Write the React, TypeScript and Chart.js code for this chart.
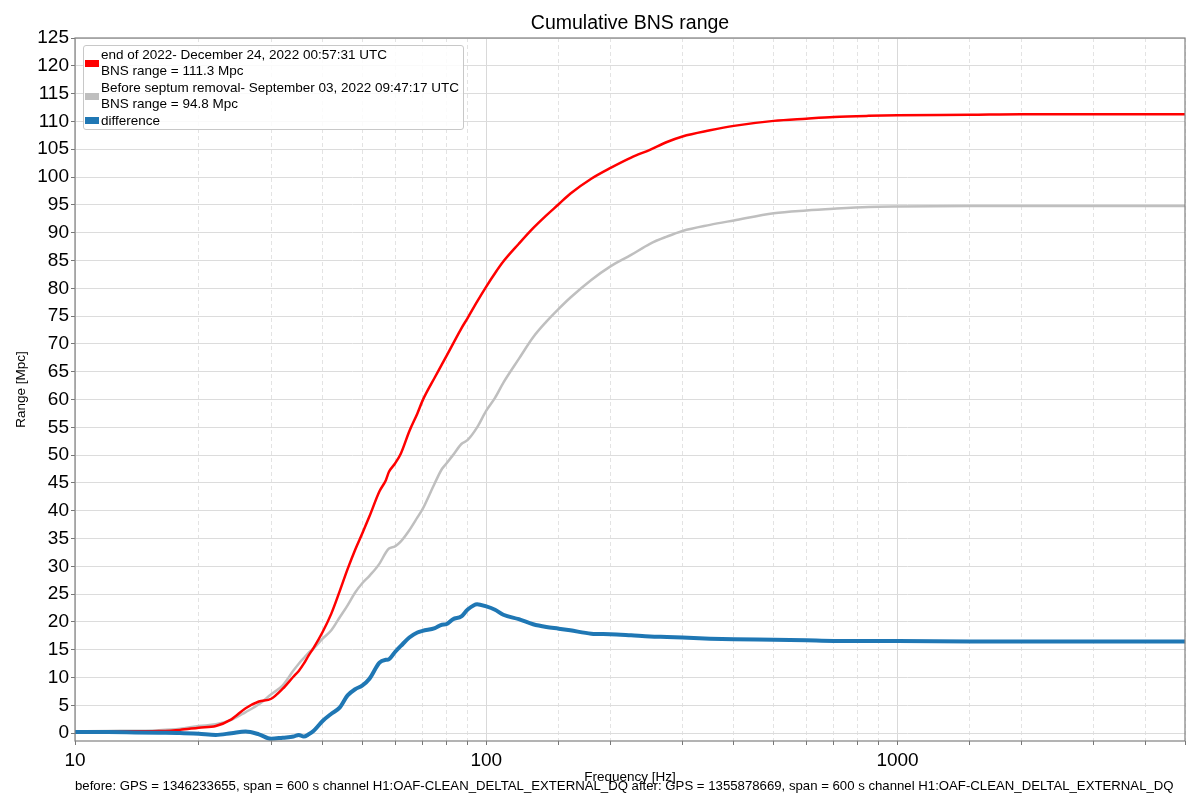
import { useEffect, useRef } from 'react';
import { Chart, registerables } from 'chart.js';
Chart.register(...registerables);

const FONT = '"Liberation Sans", Arial, sans-serif';

const FREQ_HZ = [
  10, 12, 14, 16, 18, 20, 22, 24, 26, 28, 30, 32, 34, 35, 36, 37, 38, 40, 42, 44, 46, 48, 50, 52, 55, 57, 58, 60, 62,
  65, 68, 70, 75, 78, 80, 83, 87, 90, 95, 100, 105, 110, 120, 130, 140, 150, 160, 180, 200, 225, 250, 275, 300, 350,
  400, 500, 600, 700, 850, 1000, 1500, 2000, 3000, 5000,
];

const RANGE_END_2022 = [
  0.3, 0.3, 0.35, 0.4, 0.6, 1.0, 1.3, 2.5, 4.5, 5.7, 6.2, 8.0, 10.2, 11.2, 12.5, 14.0, 15.3, 18.2, 21.5, 25.5, 29.5,
  33.0, 36.0, 39.0, 43.5, 45.5, 47.0, 48.5, 50.3, 54.3, 57.5, 59.8, 64.0, 66.3, 67.8, 70.0, 72.8, 74.6, 77.6, 80.3,
  82.7, 84.8, 88.0, 90.8, 93.1, 95.1, 97.0, 99.7, 101.6, 103.5, 104.9, 106.3, 107.3, 108.4, 109.2, 110.1, 110.5,
  110.8, 111.0, 111.1, 111.2, 111.3, 111.3, 111.3,
];

const RANGE_BEFORE_SEPTUM = [
  0.3, 0.4, 0.45, 0.55, 0.8, 1.3, 1.6, 2.4, 3.8, 5.2, 7.0, 8.6, 11.3, 12.5, 13.5, 14.5, 15.2, 17.0, 18.5, 20.8, 23.0,
  25.3, 27.0, 28.3, 30.5, 32.5, 33.2, 33.6, 34.5, 36.5, 38.8, 40.3, 45.0, 47.5, 48.5, 50.0, 52.0, 52.7, 55.0, 58.0,
  60.3, 63.0, 67.3, 71.2, 74.0, 76.3, 78.3, 81.5, 83.9, 86.0, 88.0, 89.3, 90.3, 91.4, 92.2, 93.5, 94.0, 94.3, 94.6,
  94.7, 94.8, 94.8, 94.8, 94.8,
];

const RANGE_DIFF = [
  0.2, 0.2, 0.15, 0.1, 0.05, -0.1, -0.3, 0.0, 0.3, -0.2, -1.0, -0.8, -0.6, -0.3, -0.6, -0.2, 0.4, 2.2, 3.5, 4.6, 6.8,
  7.9, 8.6, 9.8, 12.7, 13.2, 13.3, 14.6, 15.7, 17.2, 18.1, 18.4, 18.9, 19.5, 19.6, 20.5, 21.0, 22.2, 23.2, 22.8, 22.2,
  21.3, 20.5, 19.6, 19.1, 18.8, 18.5, 17.9, 17.8, 17.6, 17.4, 17.3, 17.2, 17.0, 16.9, 16.8, 16.7, 16.6, 16.6, 16.6,
  16.5, 16.5, 16.5, 16.5,
];

const Y_TICK_VALUES = [
  0, 5, 10, 15, 20, 25, 30, 35, 40, 45, 50, 55, 60, 65, 70, 75, 80, 85, 90, 95, 100, 105, 110, 115, 120, 125,
];
const X_LABELED = [10, 100, 1000];

const LEGEND = [
  { color: '#ff0000', text: 'end of 2022- December 24, 2022 00:57:31 UTC\nBNS range = 111.3 Mpc' },
  { color: '#bfbfbf', text: 'Before septum removal- September 03, 2022 09:47:17 UTC\nBNS range = 94.8 Mpc' },
  { color: '#1f77b4', text: 'difference' },
];

const FOOTER =
  'before: GPS = 1346233655, span = 600 s channel H1:OAF-CLEAN_DELTAL_EXTERNAL_DQ after: GPS = 1355878669, span = 600 s channel H1:OAF-CLEAN_DELTAL_EXTERNAL_DQ';

const toPoints = (vals: number[]) => FREQ_HZ.map((f, i) => ({ x: f, y: vals[i] }));

// box round the plot area, like the matplotlib axes frame
const framePlugin = {
  id: 'frame',
  afterDatasetsDraw(chart: any) {
    const { ctx, chartArea: a } = chart;
    ctx.save();
    ctx.strokeStyle = '#808080';
    ctx.lineWidth = 1.2;
    ctx.strokeRect(a.left, a.top, a.right - a.left, a.bottom - a.top);
    ctx.restore();
  },
};

export default function App() {
  const canvasRef = useRef<HTMLCanvasElement>(null);

  useEffect(() => {
    Chart.defaults.font.family = FONT;
    const line = { pointRadius: 0, cubicInterpolationMode: 'monotone' as const };
    const chart = new Chart(canvasRef.current!, {
      type: 'line',
      data: {
        datasets: [
          { label: 'difference', data: toPoints(RANGE_DIFF), borderColor: '#1f77b4', borderWidth: 4, order: 0, ...line },
          { label: 'end of 2022', data: toPoints(RANGE_END_2022), borderColor: '#ff0000', borderWidth: 2.5, order: 1, ...line },
          {
            label: 'Before septum removal', data: toPoints(RANGE_BEFORE_SEPTUM), borderColor: '#bfbfbf',
            borderWidth: 2.5, order: 2, ...line,
          },
        ],
      },
      options: {
        responsive: true, maintainAspectRatio: false, animation: false,
        layout: { padding: { left: 8, right: 15, top: 38, bottom: 0 } },
        plugins: {
          legend: { display: false },
          tooltip: { enabled: false },
          title: { display: false },
        },
        scales: {
          x: {
            type: 'logarithmic', min: 10, max: 5000,
            afterFit: (axis: any) => { axis.height = 59; },
            title: {
              display: true, text: 'Frequency [Hz]', color: '#000',
              font: { size: 13.5 }, padding: { top: 0, bottom: 15 },
            },
            ticks: {
              autoSkip: false, maxRotation: 0, color: '#000', font: { size: 19 }, padding: 4,
              callback: (v: any) => (X_LABELED.includes(Number(v)) ? String(v) : ''),
            },
            grid: {
              color: (c: any) => (c.tick && X_LABELED.includes(c.tick.value) ? '#d9d9d9' : '#e3e3e3'),
              tickColor: '#777', tickLength: 4, lineWidth: 1,
            },
            border: {
              display: false,
              dash: (c: any) => (c.tick && !X_LABELED.includes(c.tick.value) ? [4, 3] : []),
            },
          },
          y: {
            min: -1.4, max: 125,
            afterFit: (axis: any) => { axis.width = 67; },
            afterBuildTicks: (axis: any) => { axis.ticks = Y_TICK_VALUES.map((v) => ({ value: v })); },
            title: {
              display: true, text: 'Range [Mpc]', color: '#000',
              font: { size: 13.5 }, padding: { top: 5, bottom: 0 },
            },
            ticks: { color: '#000', font: { size: 19 }, padding: 2 },
            grid: { color: '#dcdcdc', tickColor: '#777', tickLength: 4, lineWidth: 1 },
            border: { display: false },
          },
        },
      },
      plugins: [framePlugin],
    });
    return () => chart.destroy();
  }, []);

  return (
    <div style={{ position: 'fixed', left: 0, top: 0, width: 1200, height: 800, background: '#fff', fontFamily: FONT }}>
      <canvas ref={canvasRef} />
      <div
        style={{
          position: 'absolute', left: 75, width: 1110, top: 10, textAlign: 'center',
          fontSize: 19.5, lineHeight: '24px', color: '#000',
        }}
      >
        Cumulative BNS range
      </div>
      <div
        style={{
          position: 'absolute', left: 83, top: 45, width: 381, height: 85, border: '1px solid #c8c8c8',
          borderRadius: 3, background: 'rgba(255,255,255,0.85)', boxSizing: 'border-box',
          padding: '1px 0 0 1px', fontSize: 13.5, lineHeight: '16.4px', color: '#000',
        }}
      >
        {LEGEND.map((l) => (
          <div key={l.text} style={{ display: 'flex', alignItems: 'center' }}>
            <span style={{ width: 14, height: 7, background: l.color, marginRight: 2, flex: 'none' }} />
            <span style={{ whiteSpace: 'pre-line' }}>{l.text}</span>
          </div>
        ))}
      </div>
      <div
        style={{
          position: 'absolute', left: 75, top: 778, fontSize: 13.2, lineHeight: '16px', color: '#000',
          whiteSpace: 'nowrap',
        }}
      >
        {FOOTER}
      </div>
    </div>
  );
}
